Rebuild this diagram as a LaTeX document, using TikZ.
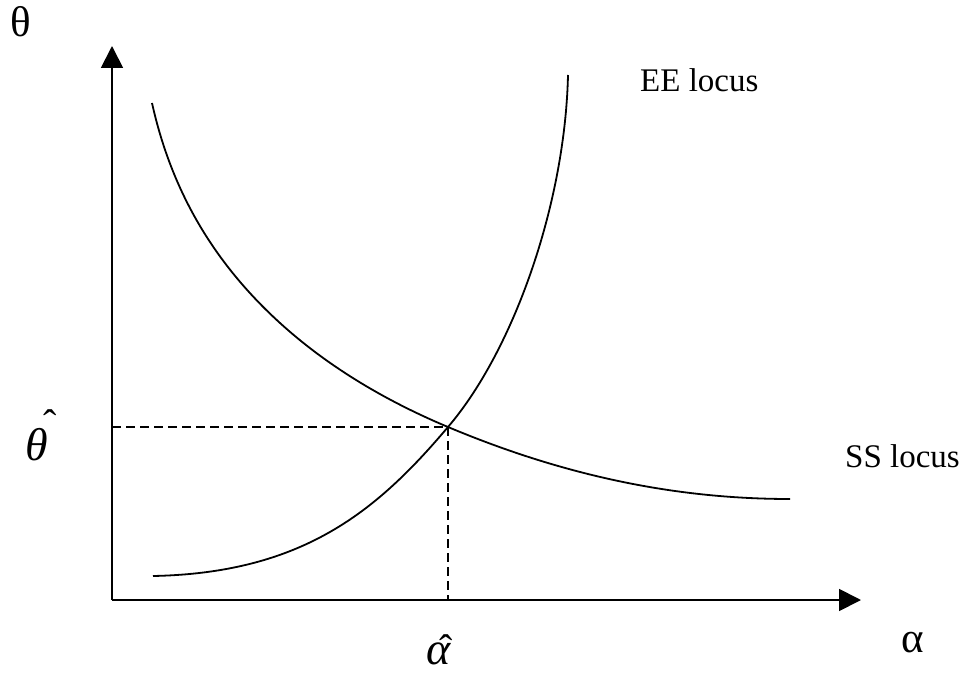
\documentclass[tikz,border=0pt]{standalone}
\usepackage{fontspec}
\setmainfont{Liberation Serif}
\usetikzlibrary{arrows.meta}
\tikzset{
  axis/.style={line width=1.8pt, -{Triangle[length=22pt,width=22pt]}},
  curve/.style={line width=1.8pt},
  guide/.style={line width=1.8pt, dash pattern=on 9pt off 5pt},
  lbl/.style={inner sep=0pt, font=\fontsize{33}{40}\selectfont},
  greek/.style={inner sep=0pt, font=\fontsize{43}{50}\selectfont},
  big/.style={inner sep=0pt, font=\fontsize{46}{54}\selectfont\itshape},
  hatlbl/.style={inner sep=0pt, font=\fontsize{40}{48}\selectfont},
}
\begin{document}
\begin{tikzpicture}[x=1pt,y=-1pt]
\useasboundingbox (0,0) rectangle (969,674);
\coordinate (O) at (112,600);
\coordinate (Ytop) at (112,46);
\coordinate (Xend) at (861,600);
\coordinate (E) at (448,427);
\coordinate (Ey) at (112,427);
\coordinate (Ex) at (448,600);
\coordinate (EEs) at (153,576);
\coordinate (EEe) at (568,75);
\coordinate (SSs) at (152,103);
\coordinate (SSm) at (280,323);
\coordinate (SSe) at (790,499);
\draw[axis] (O) -- (Ytop);
\draw[axis] (O) -- (Xend);
\draw[guide] (Ey) -- (E);
\draw[guide] (E) -- (Ex);
% EE locus
\draw[curve] (EEs) .. controls (303,573) and (377,511) .. (E)
                   .. controls (513,351) and (565,205) .. (EEe);
% SS locus
\draw[curve] (SSs) .. controls (171.5,190.8) and (213.4,262.4) .. (SSm)
                   .. controls (328.8,367.4) and (387.1,401.5) .. (E)
                   .. controls (558.6,473.4) and (670,499) .. (SSe);
% labels
\node[greek] (thetaax) at (21,22) {θ};
\node[greek] (alphaax) at (913,643) {α};
\node[lbl, anchor=base west] (ee) at (640,92) {EE locus};
\node[lbl, anchor=base west] (ss) at (845,467) {SS locus};
\node[big] (thetahat) at (37,445) {θ};
\node[hatlbl] (thetahatacc) at (50,424) {ˆ};
\node[big] (alphahat) at (439,654) {α};
\node[hatlbl] (alphahatacc) at (446,649) {ˆ};
\end{tikzpicture}
\end{document}
